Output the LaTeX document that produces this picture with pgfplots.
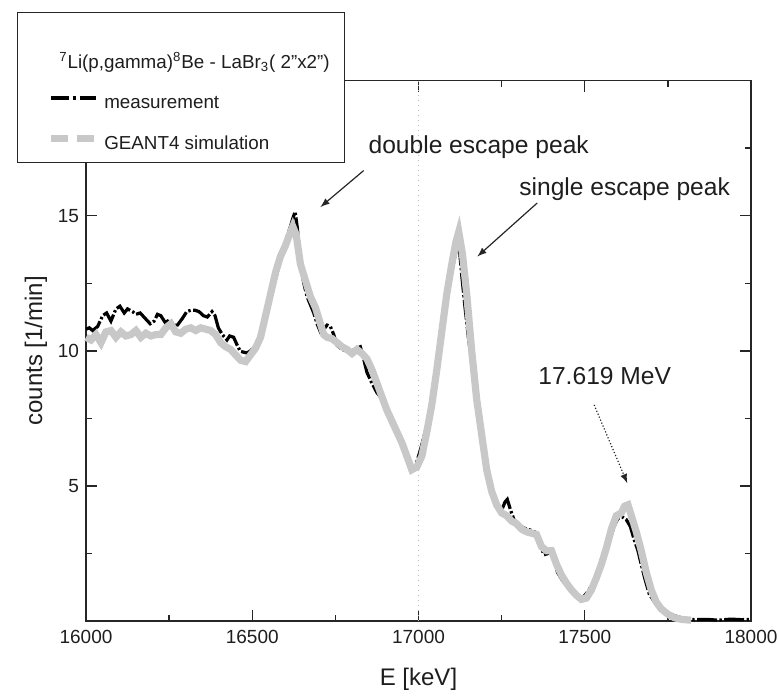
\documentclass[border=0pt]{standalone}
\usepackage{fontspec}
\setmainfont{Liberation Sans}
\usepackage{pgfplots}
\pgfplotsset{compat=1.18}
\definecolor{simgray}{RGB}{200,200,200}
\definecolor{txt}{RGB}{30,30,30}
\begin{document}
\begin{tikzpicture}
\useasboundingbox (0,0) rectangle (389.5pt,348pt);
\begin{axis}[
  name=ax,
  at={(43pt,37.5pt)}, anchor=south west,
  scale only axis, width=332.5pt, height=270.2pt,
  xmin=16000, xmax=18000, ymin=0, ymax=20,
  clip=false,
  axis line style={line width=0.8pt, black!85},
  xtick={16000,16500,17000,17500,18000},
  minor xtick={16250,16750,17250,17750},
  ytick={5,10,15},
  minor ytick={2.5,7.5,12.5,17.5},
  scaled x ticks=false,
  tick align=inside,
  major tick length=5.5pt, minor tick length=3.2pt,
  every tick/.style={black!85, line width=0.7pt},
  /pgf/number format/assume math mode=true,
  /pgf/number format/1000 sep={},
  /pgf/number format/fixed,
  tick label style={font=\fontsize{9.5}{11}\selectfont, text=txt},
  xticklabel style={yshift=-1pt},
  yticklabel style={xshift=0pt},
  xlabel={E [keV]},
  ylabel={counts [1/min]},
  label style={font=\fontsize{12}{14}\selectfont, text=txt},
  xlabel style={yshift=-5.5pt},
  ylabel style={yshift=-1.5pt},
  legend style={at={(-0.1038,1.127)}, anchor=north west,
    draw=black!85, line width=0.7pt, fill=white,
    font=\fontsize{9.4}{11}\selectfont, text=txt,
    nodes={inner sep=0pt},
    inner xsep=15pt, inner ysep=5pt, row sep=12pt,
    /tikz/every odd column/.append style={column sep=2.5pt}},
  legend cell align=left,
  legend image code/.code={\draw[#1] (0pt,2.8pt) -- (22.5pt,2.8pt);},
]
\addlegendimage{empty legend}
\addlegendentry{\makebox[105pt][l]{\hspace*{-22.5pt}\rule{0pt}{23pt}\textsuperscript{7}Li(p,gamma)\textsuperscript{8}Be - LaBr\textsubscript{3}( 2"x2")}}
\addlegendimage{black, line width=2.2pt, dash pattern=on 9pt off 2pt on 1.5pt off 2pt}
\addlegendentry{measurement}
\addlegendimage{simgray, line width=3.3pt, dash pattern=on 8.5pt off 4.5pt}
\addlegendentry{GEANT4 simulation}

\addplot[gray!55, dotted, line width=0.5pt, forget plot] coordinates {(17000,0) (17000,20)};

\addplot[black, line width=1.6pt, dash pattern=on 10pt off 1.2pt on 1.2pt off 1.2pt, forget plot] coordinates {
(16000,10.8) (16010,10.85) (16020,10.75) (16035,10.9) (16050,11.3) (16062,11.4)
(16075,11.1) (16090,11.55) (16102,11.65) (16115,11.4) (16125,11.55) (16140,11.45)
(16150,11.35) (16163,11.4) (16178,11.2) (16193,11.0) (16205,11.1) (16215,11.35)
(16225,11.3) (16238,11.05) (16253,11.15) (16265,10.95) (16275,10.95) (16290,11.2)
(16303,11.45) (16315,11.5) (16328,11.5) (16340,11.45) (16353,11.3) (16365,11.25)
(16379,11.45) (16388,11.3) (16398,10.85) (16410,10.6) (16424,10.4) (16432,10.55)
(16444,10.5) (16455,10.2) (16464,9.98) (16474,9.95) (16484,9.92) (16495,10.0)
(16509,10.16) (16520,10.5) (16532,10.9) (16544,11.4) (16559,12.1) (16574,12.85)
(16590,13.6) (16604,14.2) (16615,14.6) (16622,14.9) (16629,15.15) (16636,14.5)
(16645,13.2) (16655,12.5) (16665,12.0) (16675,11.7) (16685,11.4) (16695,11.0)
(16705,10.7) (16715,10.8) (16725,10.95) (16735,10.9) (16745,10.6) (16755,10.2)
(16770,10.05) (16785,9.98) (16800,10.0) (16815,10.1) (16825,10.15) (16835,9.7)
(16845,9.2) (16860,8.8) (16875,8.45) (16885,8.3) (16900,7.9) (16916,7.55)
(16930,7.1) (16945,6.7) (16955,6.45) (16965,6.0) (16975,5.6) (16985,5.6)
(16995,5.9) (17005,6.3) (17016,6.8) (17030,7.5) (17046,8.3) (17056,9.5)
(17066,10.7) (17076,11.5) (17086,12.2) (17096,12.7) (17106,13.3) (17115,13.8)
(17122,13.9) (17130,12.8) (17140,11.6) (17150,10.5) (17162,9.4) (17175,8.2)
(17187,7.0) (17200,6.0) (17212,5.2) (17225,4.6) (17237,4.25) (17250,4.1)
(17260,4.4) (17267,4.5) (17277,4.1) (17287,3.75) (17300,3.6) (17315,3.45)
(17327,3.4) (17340,3.35) (17357,3.25) (17367,2.8) (17377,2.45) (17390,2.5)
(17403,2.55) (17410,2.2) (17418,1.8) (17433,1.5) (17448,1.27) (17470,1.0)
(17493,0.84) (17510,1.1) (17528,1.45) (17545,1.9) (17558,2.3) (17573,2.9)
(17588,3.5) (17600,3.8) (17613,3.85) (17625,3.75) (17637,3.5) (17649,3.0)
(17660,2.6) (17669,2.14) (17680,1.6) (17694,1.0) (17710,0.7) (17729,0.45)
(17750,0.3) (17769,0.2) (17790,0.12) (17810,0.08) (17830,0.05) (17870,0.06)
(17900,0.03) (17940,0.07) (17970,0.05) (18000,0.06)
};

\addplot[simgray, line width=3.6pt, forget plot] coordinates {
(16000,10.5) (16015,10.4) (16030,10.6) (16045,10.3) (16060,10.7) (16075,10.75)
(16090,10.5) (16105,10.7) (16120,10.55) (16135,10.6) (16150,10.75) (16165,10.5)
(16180,10.65) (16195,10.55) (16210,10.6) (16225,10.6) (16240,10.85) (16255,11.0)
(16270,10.7) (16285,10.65) (16300,10.8) (16315,10.85) (16330,10.75) (16345,10.85)
(16360,10.8) (16375,10.75) (16390,10.6) (16405,10.3) (16420,10.15) (16435,10.05)
(16450,9.85) (16465,9.65) (16480,9.6) (16495,9.85) (16510,10.1) (16525,10.5)
(16540,11.3) (16555,12.1) (16570,12.9) (16585,13.5) (16600,13.9) (16612,14.3)
(16622,14.6) (16632,14.3) (16645,13.2) (16660,12.6) (16675,12.0) (16690,11.6)
(16705,11.0) (16715,10.6) (16725,10.5) (16740,10.45) (16755,10.3) (16770,10.15)
(16785,10.05) (16800,9.9) (16815,10.05) (16830,9.9) (16845,9.7) (16860,9.3)
(16875,8.8) (16890,8.3) (16905,7.8) (16920,7.4) (16935,7.0) (16950,6.6)
(16965,6.1) (16980,5.6) (16995,5.7) (17010,6.1) (17025,7.0) (17040,8.0)
(17055,9.3) (17070,10.7) (17085,12.1) (17100,13.2) (17112,14.0) (17121,14.4)
(17132,13.6) (17145,12.1) (17160,10.0) (17175,8.2) (17190,6.9) (17205,5.6)
(17220,4.8) (17235,4.3) (17250,4.0) (17265,3.9) (17280,3.7) (17295,3.6)
(17310,3.4) (17325,3.3) (17340,3.25) (17355,3.2) (17370,2.75) (17385,2.6)
(17400,2.6) (17415,2.1) (17430,1.7) (17445,1.4) (17460,1.15) (17475,0.95)
(17490,0.8) (17505,0.85) (17520,1.15) (17535,1.6) (17550,2.1) (17565,2.7)
(17580,3.4) (17595,3.9) (17610,4.0) (17620,4.25) (17630,4.3) (17640,3.9)
(17655,3.3) (17670,2.6) (17685,1.8) (17700,1.15) (17715,0.7) (17730,0.45)
(17750,0.25) (17770,0.12) (17790,0.06) (17820,0.03)
};

\node[font=\fontsize{12.3}{14}\selectfont, text=txt] at (axis cs:17181,17.55) {double escape peak};
\draw[-latex, line width=0.6pt, black!85] (axis cs:16835,16.67) -- (axis cs:16705,15.32);
\node[font=\fontsize{12.3}{14}\selectfont, text=txt] at (axis cs:17620,16.0) {single escape peak};
\draw[-latex, line width=0.6pt, black!85] (axis cs:17357,15.47) -- (axis cs:17177,13.49);
\node[font=\fontsize{12.3}{14}\selectfont, text=txt] at (axis cs:17560,9.05) {17.619 MeV};
\draw[-latex, line width=0.6pt, black!85, densely dotted] (axis cs:17528,8.0) -- (axis cs:17628,5.1);
\end{axis}
\end{tikzpicture}
\end{document}
